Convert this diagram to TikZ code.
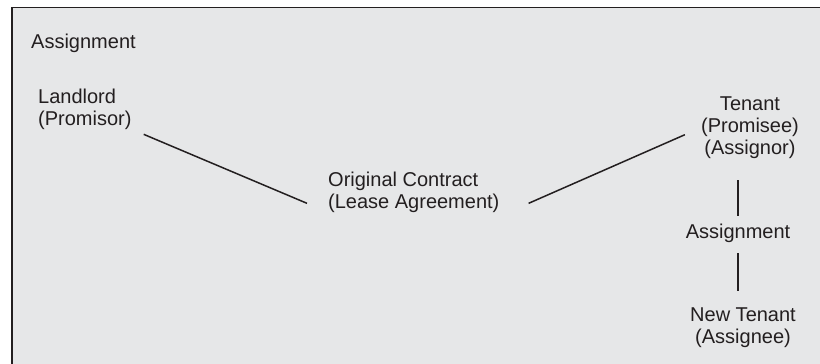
\documentclass[tikz,border=0pt]{standalone}
\usepackage{fontspec}
\setmainfont{Liberation Sans}
\usetikzlibrary{calc}
\definecolor{panel}{HTML}{E6E7E8}
\definecolor{ink}{HTML}{231F20}
\begin{document}
\begin{tikzpicture}[x=1pt,y=-1pt,
  lbl/.style={font=\fontsize{20}{22}\selectfont, inner sep=0pt, align=#1, text=ink},
  lbl/.default=left,
  conn/.style={line width=1.5pt, draw=ink}]
\useasboundingbox (0,0) rectangle (820,364);
\path[fill=panel] (12,7.5) rectangle (830,370);
\draw[line width=1.6pt, ink] (12,370) -- (12,7.5) -- (830,7.5);
\node[lbl, anchor=base west] (title) at (31,48) {Assignment};
\node[lbl, anchor=base west] (land) at (38,125) {Landlord\\(Promisor)};
\node[lbl, anchor=base west] (orig) at (328,208) {Original Contract\\(Lease Agreement)};
\node[lbl=center, anchor=base] (ten) at (750,154) {Tenant\\(Promisee)\\(Assignor)};
\node[lbl=center, anchor=base] (asg) at (738,238) {Assignment};
\node[lbl=center, anchor=base] (new) at (743,343) {New Tenant\\(Assignee)};
\draw[conn] ($(land.south east)+(12,5)$) -- ($(orig.west)+(-21,11.5)$);
\draw[conn] ($(orig.east)+(29,11.5)$) -- ($(ten.west)+(-16,7.5)$);
\draw[conn] ($(asg.north |- ten.south)+(0,22)$) -- ($(asg.north)+(0,-7)$);
\draw[conn] ($(asg.south)+(0,11)$) -- ($(asg.south |- new.north)+(0,-16)$);
\end{tikzpicture}
\end{document}
